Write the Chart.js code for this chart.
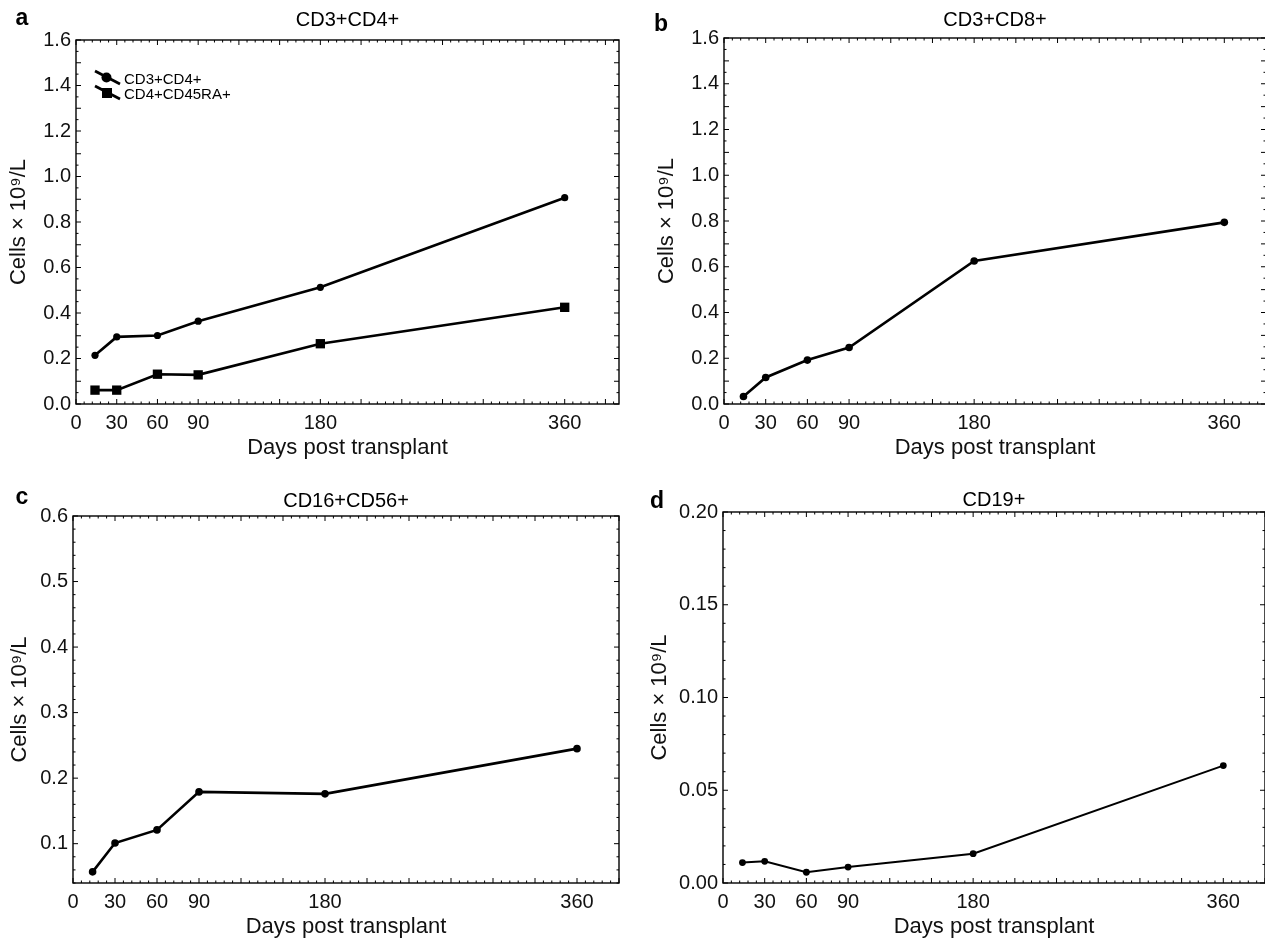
<!DOCTYPE html>
<html>
<head>
<meta charset="utf-8">
<title>Immune reconstitution</title>
<script src="https://cdn.jsdelivr.net/npm/chart.js@4.4.0/dist/chart.umd.min.js"></script>
<style>
  html, body { margin: 0; padding: 0; background: #fff; overflow: hidden; }
  body { width: 1265px; height: 941px; position: relative; }
  canvas { position: absolute; }
</style>
</head>
<body>
<canvas id="chartA" width="640" height="470" style="left:0;top:0"></canvas>
<canvas id="chartB" width="660" height="470" style="left:640px;top:0"></canvas>
<canvas id="chartC" width="640" height="471" style="left:0;top:470px"></canvas>
<canvas id="chartD" width="660" height="471" style="left:640px;top:470px"></canvas>
<script>
// days post transplant at which counts were taken
var days = [14, 30, 60, 90, 180, 360];

// cell counts, x10^9/L
var cd3cd4    = [0.214, 0.295, 0.301, 0.364, 0.513, 0.907];
var cd4cd45ra = [0.061, 0.061, 0.131, 0.128, 0.265, 0.425];
var cd3cd8    = [0.033, 0.116, 0.192, 0.247, 0.625, 0.794];
var cd16cd56  = [0.057, 0.101, 0.121, 0.179, 0.176, 0.245];
var cd19      = [0.0110, 0.0117, 0.0058, 0.0086, 0.0158, 0.0633];

// labelled ticks
var dayTicks = [0, 30, 60, 90, 180, 360];
var tTicks   = [0, 0.2, 0.4, 0.6, 0.8, 1.0, 1.2, 1.4, 1.6];
var nkTicks  = [0.1, 0.2, 0.3, 0.4, 0.5, 0.6];
var bTicks   = [0, 0.05, 0.10, 0.15, 0.20];

var FONT = "'Liberation Sans', Arial, Helvetica, sans-serif";
Chart.defaults.font.family = FONT;
Chart.defaults.font.size = 19;
Chart.defaults.color = '#111';

function pts(ys) {
    return days.map(function(d, i) { return { x: d, y: ys[i] }; });
}

// box round the plot with small inward ticks on all four sides
var frameTicks = {
    id: 'frameTicks',
    afterDatasetsDraw: function(chart, args, o) {
        var ctx = chart.ctx, a = chart.chartArea;
        var xs = chart.scales.x, ys = chart.scales.y;
        ctx.save();
        ctx.strokeStyle = '#000';
        ctx.lineWidth = 1.4;
        ctx.strokeRect(a.left, a.top, a.right - a.left, a.bottom - a.top);
        ctx.lineWidth = 1;
        ctx.beginPath();
        var first = Math.ceil(xs.min / o.xMinor - 1e-6);
        for (var i = first; i * o.xMinor <= xs.max + 1e-6; i++) {
            var v = i * o.xMinor;
            var major = Math.abs(v / o.xMajor - Math.round(v / o.xMajor)) < 1e-6;
            var len = major ? 5 : 2.5;
            var px = xs.getPixelForValue(v);
            ctx.moveTo(px, a.bottom); ctx.lineTo(px, a.bottom - len);
            ctx.moveTo(px, a.top); ctx.lineTo(px, a.top + len);
        }
        first = Math.ceil(ys.min / o.yMinor - 1e-6);
        for (var j = first; j * o.yMinor <= ys.max + 1e-6; j++) {
            var w = j * o.yMinor;
            var maj = Math.abs(w / o.yMajor - Math.round(w / o.yMajor)) < 1e-6;
            var l = maj ? 5 : 2.5;
            var py = ys.getPixelForValue(w);
            ctx.moveTo(a.left, py); ctx.lineTo(a.left + l, py);
            ctx.moveTo(a.right, py); ctx.lineTo(a.right - l, py);
        }
        ctx.stroke();
        ctx.restore();
    }
};

// panel letter and heading above the plot
var panelText = {
    id: 'panelText',
    afterDraw: function(chart, args, o) {
        var ctx = chart.ctx, a = chart.chartArea;
        ctx.save();
        ctx.fillStyle = '#000';
        ctx.textBaseline = 'middle';
        ctx.textAlign = 'center';
        ctx.font = 'bold 23px ' + FONT;
        ctx.fillText(o.letter, o.letterX, o.letterY);
        ctx.font = '20px ' + FONT;
        ctx.fillText(o.heading, (a.left + a.right) / 2, o.headingY);
        ctx.restore();
    }
};

// key drawn inside panel a: slanted stroke with marker, then label
var seriesKey = {
    id: 'seriesKey',
    afterDraw: function(chart, args, o) {
        if (!o.items) return;
        var ctx = chart.ctx, a = chart.chartArea;
        ctx.save();
        o.items.forEach(function(it, k) {
            var x0 = a.left + 19, y0 = a.top + 31 + k * 15;
            ctx.strokeStyle = '#000';
            ctx.lineWidth = 2.8;
            ctx.beginPath();
            ctx.moveTo(x0, y0);
            ctx.lineTo(x0 + 25, y0 + 13);
            ctx.stroke();
            ctx.fillStyle = '#000';
            if (it.style === 'rect') {
                ctx.fillRect(x0 + 7, y0 + 2, 10, 10);
            } else {
                ctx.beginPath();
                ctx.arc(x0 + 11.5, y0 + 6.5, 5, 0, Math.PI * 2);
                ctx.fill();
            }
            ctx.font = '15px ' + FONT;
            ctx.textAlign = 'left';
            ctx.textBaseline = 'middle';
            ctx.fillText(it.label, x0 + 29, y0 + 9);
        });
        ctx.restore();
    }
};

function series(values, style, radius, width) {
    return {
        data: pts(values),
        borderColor: '#000',
        backgroundColor: '#000',
        borderWidth: width,
        pointStyle: style,
        pointRadius: radius,
        pointBorderWidth: 0,
        tension: 0
    };
}

function makeChart(id, cfg) {
    return new Chart(document.getElementById(id), {
        type: 'line',
        data: { datasets: cfg.datasets },
        plugins: [frameTicks, panelText, seriesKey],
        options: {
            responsive: false,
            animation: false,
            events: [],
            layout: { padding: cfg.padding },
            plugins: {
                legend: { display: false },
                tooltip: { enabled: false },
                frameTicks: cfg.frame,
                panelText: cfg.text,
                seriesKey: { items: cfg.key }
            },
            scales: {
                x: {
                    type: 'linear',
                    min: 0,
                    max: cfg.xMax,
                    afterBuildTicks: function(s) { s.ticks = dayTicks.map(function(v) { return { value: v }; }); },
                    afterFit: function(s) { s.height = cfg.xHeight; },
                    grid: { display: false, drawTicks: false, tickLength: 0 },
                    border: { display: false },
                    ticks: { padding: 7, maxRotation: 0, autoSkip: false, font: { size: 20 } },
                    title: {
                        display: true,
                        text: 'Days post transplant',
                        font: { size: 22 },
                        padding: { top: 0, bottom: cfg.xTitlePad }
                    }
                },
                y: {
                    type: 'linear',
                    min: cfg.yMin,
                    max: cfg.yMax,
                    afterBuildTicks: function(s) { s.ticks = cfg.yTicks.map(function(v) { return { value: v }; }); },
                    afterFit: function(s) { s.width = cfg.yWidth; },
                    grid: { display: false, drawTicks: false, tickLength: 0 },
                    border: { display: false },
                    ticks: {
                        padding: 5,
                        autoSkip: false,
                        font: { size: 20 },
                        callback: function(v) { return v.toFixed(cfg.yDigits); }
                    },
                    title: {
                        display: true,
                        text: 'Cells \u00d7 10\u2079/L',
                        font: { size: 22 },
                        padding: { top: cfg.yTitlePad, bottom: 0 }
                    }
                }
            }
        }
    });
}

makeChart('chartA', {
    datasets: [series(cd3cd4, 'circle', 3.6, 2.6), series(cd4cd45ra, 'rect', 6.6, 2.6)],
    key: [{ label: 'CD3+CD4+', style: 'circle' }, { label: 'CD4+CD45RA+', style: 'rect' }],
    padding: { top: 40, right: 21, bottom: 0, left: 0 },
    xMax: 400, xHeight: 66, xTitlePad: 9,
    yMin: 0, yMax: 1.6, yTicks: tTicks, yDigits: 1, yWidth: 76, yTitlePad: 6,
    frame: { xMajor: 30, xMinor: 6, yMajor: 0.1, yMinor: 0.05 },
    text: { letter: 'a', letterX: 22, letterY: 19, heading: 'CD3+CD4+', headingY: 20 }
});

makeChart('chartB', {
    datasets: [series(cd3cd8, 'circle', 3.8, 2.6)],
    padding: { top: 38, right: 34, bottom: 0, left: 0 },
    xMax: 390, xHeight: 66, xTitlePad: 9,
    yMin: 0, yMax: 1.6, yTicks: tTicks, yDigits: 1, yWidth: 84, yTitlePad: 14,
    frame: { xMajor: 30, xMinor: 6, yMajor: 0.1, yMinor: 0.05 },
    text: { letter: 'b', letterX: 21, letterY: 25, heading: 'CD3+CD8+', headingY: 20 }
});

makeChart('chartC', {
    datasets: [series(cd16cd56, 'circle', 3.8, 2.6)],
    padding: { top: 46, right: 21, bottom: 0, left: 0 },
    xMax: 390, xHeight: 58, xTitlePad: 1,
    yMin: 0.04, yMax: 0.6, yTicks: nkTicks, yDigits: 1, yWidth: 73, yTitlePad: 7,
    frame: { xMajor: 30, xMinor: 6, yMajor: 0.1, yMinor: 0.02 },
    text: { letter: 'c', letterX: 22, letterY: 28, heading: 'CD16+CD56+', headingY: 31 }
});

makeChart('chartD', {
    datasets: [series(cd19, 'circle', 3.4, 2.0)],
    padding: { top: 42, right: 35, bottom: 0, left: 0 },
    xMax: 390, xHeight: 58, xTitlePad: 1,
    yMin: 0, yMax: 0.2, yTicks: bTicks, yDigits: 2, yWidth: 83, yTitlePad: 7,
    frame: { xMajor: 30, xMinor: 6, yMajor: 0.05, yMinor: 0.01 },
    text: { letter: 'd', letterX: 17, letterY: 32, heading: 'CD19+', headingY: 30 }
});
</script>
</body>
</html>
